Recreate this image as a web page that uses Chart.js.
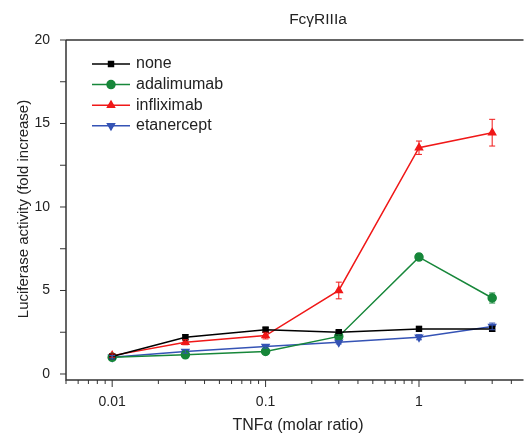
<!DOCTYPE html>
<html>
<head>
<meta charset="utf-8">
<script src="https://cdn.jsdelivr.net/npm/chart.js@4/dist/chart.umd.min.js"></script>
<style>
  html, body { margin: 0; padding: 0; background: #fff; }
  #wrap { width: 529px; height: 437px; position: relative; }
</style>
</head>
<body>
<div id="wrap"><canvas id="chart"></canvas></div>
<script>
// data
const doses = [0.01, 0.03, 0.1, 0.3, 1, 3];
const noneVals = [1.05, 2.2, 2.65, 2.5, 2.7, 2.7];
const adalimumabVals = [1.0, 1.15, 1.35, 2.25, 7.0, 4.55];
const infliximabVals = [1.1, 1.9, 2.3, 5.0, 13.55, 14.45];
const etanerceptVals = [1.0, 1.35, 1.65, 1.9, 2.2, 2.85];
const noneErr = [0.1, 0.15, 0.15, 0.1, 0.15, 0.15];
const adalimumabErr = [0.1, 0.1, 0.1, 0.1, 0.2, 0.3];
const infliximabErr = [0.1, 0.15, 0.2, 0.5, 0.4, 0.8];
const etanerceptErr = [0.1, 0.1, 0.1, 0.1, 0.15, 0.2];
const yTicks = [0, 5, 10, 15, 20];
const xTicks = [0.01, 0.1, 1];

const FONT = '"Liberation Sans", Arial, sans-serif';
const AXIS = '#333';

function makeSet(label, vals, errs, color, style, rot) {
    return {
        label: label,
        data: doses.map((d, i) => ({ x: d, y: vals[i] })),
        errors: errs,
        borderColor: color,
        backgroundColor: color,
        borderWidth: 1.5,
        pointStyle: style,
        pointRotation: rot || 0,
        pointRadius: style === 'rect' ? 3.5 : 4,
        tension: 0
    };
}

const datasets = [
    makeSet('none', noneVals, noneErr, '#000000', 'rect'),
    makeSet('adalimumab', adalimumabVals, adalimumabErr, '#17873a', 'circle'),
    makeSet('infliximab', infliximabVals, infliximabErr, '#f01818', 'triangle'),
    makeSet('etanercept', etanerceptVals, etanerceptErr, '#3553b5', 'triangle', 180)
];

// error bars, tick marks, frame, titles and legend
const extras = {
    id: 'extras',
    afterDatasetsDraw(chart) {
        const ctx = chart.ctx;
        const xs = chart.scales.x, ys = chart.scales.y;
        ctx.save();
        chart.data.datasets.forEach(ds => {
            ctx.strokeStyle = ds.borderColor;
            ctx.lineWidth = 1;
            ds.data.forEach((p, i) => {
                const e = ds.errors[i];
                const px = xs.getPixelForValue(p.x);
                const top = ys.getPixelForValue(p.y + e);
                const bot = ys.getPixelForValue(p.y - e);
                ctx.beginPath();
                ctx.moveTo(px, top); ctx.lineTo(px, bot);
                ctx.moveTo(px - 3, top); ctx.lineTo(px + 3, top);
                ctx.moveTo(px - 3, bot); ctx.lineTo(px + 3, bot);
                ctx.stroke();
            });
        });
        ctx.restore();
    },
    afterDraw(chart) {
        const ctx = chart.ctx;
        const a = chart.chartArea;
        const xs = chart.scales.x, ys = chart.scales.y;
        ctx.save();
        ctx.strokeStyle = AXIS;
        ctx.lineWidth = 1.5;
        // frame: left, bottom, top
        ctx.beginPath();
        ctx.moveTo(a.left, a.top); ctx.lineTo(a.right, a.top);
        ctx.moveTo(a.left, a.top); ctx.lineTo(a.left, a.bottom);
        ctx.lineTo(a.right, a.bottom);
        ctx.stroke();

        ctx.lineWidth = 1;
        // y ticks (major + minor)
        for (let v = 0; v <= 20; v += 2.5) {
            const py = ys.getPixelForValue(v);
            ctx.beginPath();
            ctx.moveTo(a.left - 6, py); ctx.lineTo(a.left, py);
            ctx.stroke();
        }
        // x ticks (log, major + minor)
        for (let dec = -3; dec <= 0; dec++) {
            for (let m = 1; m <= 9; m++) {
                const v = m * Math.pow(10, dec);
                if (v < xs.min || v > xs.max) continue;
                const px = xs.getPixelForValue(v);
                const len = m === 1 ? 7 : 4;
                ctx.beginPath();
                ctx.moveTo(px, a.bottom); ctx.lineTo(px, a.bottom + len);
                ctx.stroke();
            }
        }

        // titles
        ctx.fillStyle = '#222';
        ctx.textAlign = 'center';
        ctx.textBaseline = 'middle';
        ctx.font = '15.5px ' + FONT;
        ctx.fillText('Fc\u03b3RIIIa', 318, 20);
        ctx.font = '16px ' + FONT;
        ctx.fillText('TNF\u03b1 (molar ratio)', 298, 426);
        ctx.save();
        ctx.translate(24, 209);
        ctx.rotate(-Math.PI / 2);
        ctx.font = '15px ' + FONT;
        ctx.fillText('Luciferase activity (fold increase)', 0, 0);
        ctx.restore();

        // legend
        ctx.textAlign = 'left';
        ctx.font = '16px ' + FONT;
        chart.data.datasets.forEach((ds, i) => {
            const y = 64 + i * 20.6;
            ctx.strokeStyle = ds.borderColor;
            ctx.lineWidth = 1.5;
            ctx.beginPath();
            ctx.moveTo(92, y); ctx.lineTo(130, y);
            ctx.stroke();
            Chart.helpers.drawPoint(ctx, {
                pointStyle: ds.pointStyle,
                rotation: ds.pointRotation,
                radius: ds.pointRadius,
                borderWidth: 1
            }, 111, y);
            ctx.fillStyle = ds.borderColor;
            ctx.fill();
            ctx.fillStyle = '#222';
            ctx.fillText(ds.label, 136, y);
        });
        ctx.restore();
    }
};

new Chart(document.getElementById('chart'), {
    type: 'line',
    data: { datasets: datasets },
    options: {
        responsive: true,
        maintainAspectRatio: false,
        animation: false,
        layout: { padding: { top: 40, left: 0, right: 0, bottom: 0 } },
        plugins: { legend: { display: false }, tooltip: { enabled: false } },
        scales: {
            x: {
                type: 'logarithmic',
                min: 0.005,
                max: 4.8,
                grid: { display: false, drawTicks: false },
                border: { display: false },
                afterFit: s => { s.height = 57; },
                afterBuildTicks: s => { s.ticks = xTicks.map(v => ({ value: v })); },
                ticks: {
                    padding: 14,
                    color: '#222',
                    font: { family: FONT, size: 14 },
                    maxRotation: 0,
                    callback: v => String(v)
                }
            },
            y: {
                min: -0.36,
                max: 20,
                grid: { display: false, drawTicks: false },
                border: { display: false },
                afterFit: s => { s.width = 66; },
                afterBuildTicks: s => { s.ticks = yTicks.map(v => ({ value: v })); },
                ticks: {
                    padding: 16,
                    color: '#222',
                    font: { family: FONT, size: 14 }
                }
            }
        }
    },
    plugins: [extras]
});
</script>
</body>
</html>
